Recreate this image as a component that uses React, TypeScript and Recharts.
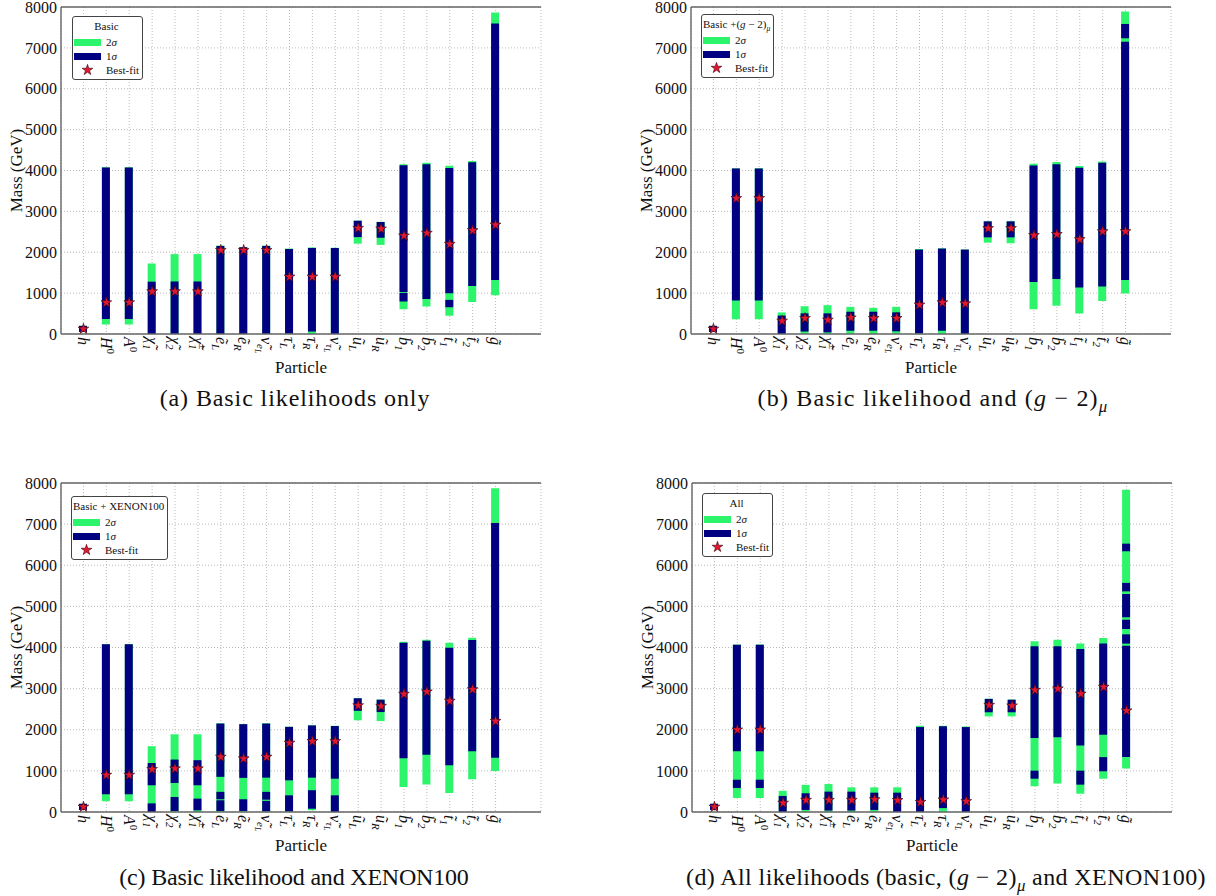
import React from "react";
import {
  ComposedChart,
  Bar,
  Scatter,
  XAxis,
  YAxis,
  CartesianGrid,
  ReferenceLine,
  Legend,
  Symbols,
} from "recharts";

const GREEN = "#2cf56c";
const NAVY = "#000080";
const STAR = "#e3162f";
const FRAME = "#666";
const SERIF = "'Liberation Serif', 'DejaVu Serif', serif";

// particle keys and their (rotated) tick labels
const particles = [
  "h", "H0", "A0", "chi1", "chi2", "chipm", "eL", "eR", "nueL", "tauL",
  "tauR", "nutauL", "uL", "uR", "b1", "b2", "t1", "t2", "gluino",
];

type TickLabel = { base: string; sub?: string; sub2?: string; sup?: string };
const tickLabels: TickLabel[] = [
  { base: "h" },
  { base: "H", sup: "0" },
  { base: "A", sup: "0" },
  { base: "\u03c7\u0303", sub: "1" },
  { base: "\u03c7\u0303", sub: "2" },
  { base: "\u03c7\u0303", sub: "1", sup: "\u00b1" },
  { base: "e\u0303", sub: "L" },
  { base: "e\u0303", sub: "R" },
  { base: "\u03bd\u0303", sub: "e", sub2: "L" },
  { base: "\u03c4\u0303", sub: "L" },
  { base: "\u03c4\u0303", sub: "R" },
  { base: "\u03bd\u0303", sub: "\u03c4", sub2: "L" },
  { base: "u\u0303", sub: "L" },
  { base: "u\u0303", sub: "R" },
  { base: "b\u0303", sub: "1" },
  { base: "b\u0303", sub: "2" },
  { base: "t\u0303", sub: "1" },
  { base: "t\u0303", sub: "2" },
  { base: "g\u0303" },
];

const massTicks = [0, 1000, 2000, 3000, 4000, 5000, 6000, 7000, 8000];

// (a) basic likelihoods only
const basic2Sigma: [number, number][] = [
  [50, 200], [230, 4080], [230, 4080], [0, 1725], [0, 1955], [0, 1955],
  [0, 2165], [0, 2130], [0, 2165], [0, 2090], [0, 2115], [0, 2110],
  [2210, 2775], [2180, 2745], [605, 4155], [670, 4190], [445, 4115],
  [785, 4230], [945, 7865],
];
const basic1Sigma: [number, number][][] = [
  [[50, 200]], [[370, 4075]], [[370, 4075]], [[0, 1280]], [[0, 1285]],
  [[0, 1285]], [[0, 2155]], [[0, 2120]], [[0, 2155]], [[10, 2080]],
  [[60, 2105]], [[0, 2105]], [[2370, 2770]], [[2355, 2740]],
  [[1030, 4130], [795, 1005]], [[855, 4155]], [[1000, 4060], [655, 835]],
  [[1175, 4200]], [[1320, 7595]],
];
const basicBest = [
  125, 770, 770, 1040, 1040, 1040, 2050, 2050, 2050, 1400, 1400, 1400,
  2590, 2575, 2405, 2470, 2200, 2535, 2670,
];

// (b) basic + (g-2)_mu
const gm22Sigma: [number, number][] = [
  [50, 200], [360, 4055], [360, 4055], [0, 528], [0, 680], [0, 705],
  [0, 665], [0, 640], [0, 665], [0, 2080], [0, 2100], [0, 2070],
  [2235, 2760], [2220, 2760], [605, 4165], [690, 4205], [500, 4110],
  [810, 4220], [990, 7890],
];
const gm21Sigma: [number, number][][] = [
  [[50, 200]], [[820, 4050]], [[820, 4050]], [[0, 450]], [[60, 505]],
  [[40, 505]], [[80, 545]], [[80, 545]], [[65, 530]], [[15, 2065]],
  [[80, 2090]], [[0, 2065]], [[2365, 2755]], [[2365, 2755]],
  [[1270, 4125]], [[1345, 4150]], [[1135, 4065]], [[1160, 4190]],
  [[7235, 7585], [1320, 7150]],
];
const gm2Best = [
  125, 3320, 3320, 320, 385, 345, 400, 385, 385, 715, 770, 745,
  2585, 2585, 2415, 2440, 2315, 2510, 2510,
];

// (c) basic + XENON100
const xenon2Sigma: [number, number][] = [
  [50, 200], [260, 4085], [260, 4085], [0, 1600], [0, 1890], [0, 1890],
  [0, 2160], [0, 2140], [0, 2160], [0, 2075], [40, 2110], [0, 2095],
  [2230, 2770], [2210, 2735], [610, 4140], [670, 4190], [460, 4115],
  [795, 4235], [1000, 7870],
];
const xenon1Sigma: [number, number][][] = [
  [[50, 200]], [[430, 4080]], [[430, 4080]], [[650, 1190], [0, 210]],
  [[705, 1275], [25, 365]], [[650, 1260], [40, 325]],
  [[855, 2150], [310, 490], [25, 285]], [[830, 2135], [25, 310]],
  [[835, 2150], [300, 490], [15, 270]], [[770, 2070], [15, 405]],
  [[835, 2105], [80, 530]], [[810, 2090], [0, 405]], [[2460, 2765]],
  [[2430, 2730]], [[1310, 4115]], [[1395, 4165]], [[1135, 3995]],
  [[1475, 4180]], [[1320, 7025]],
];
const xenonBest = [
  125, 900, 900, 1040, 1055, 1055, 1340, 1300, 1340, 1680, 1720, 1720,
  2590, 2575, 2870, 2925, 2700, 2980, 2210,
];

// (d) all likelihoods
const all2Sigma: [number, number][] = [
  [50, 200], [340, 4070], [340, 4070], [0, 515], [0, 660], [0, 680],
  [0, 600], [0, 600], [0, 600], [0, 2100], [0, 2095], [0, 2080],
  [2325, 2755], [2325, 2735], [625, 4150], [690, 4190], [445, 4100],
  [810, 4230], [1055, 7835],
];
const all1Sigma: [number, number][][] = [
  [[50, 200]], [[1475, 4065], [585, 785]], [[1475, 4065], [585, 785]],
  [[0, 390]], [[50, 455]], [[35, 495]], [[35, 495]], [[50, 470]],
  [[0, 470]], [[0, 2065]], [[95, 2085]], [[0, 2065]], [[2425, 2750]],
  [[2425, 2730]], [[1800, 4030], [810, 1005]], [[1815, 4030]],
  [[1615, 3965], [665, 1005]], [[1880, 4095], [990, 1335]],
  [[6340, 6525], [5365, 5570], [4735, 5300], [4450, 4675], [4095, 4320], [1335, 4045]],
];
const allBest = [
  125, 2000, 2000, 220, 290, 290, 290, 305, 285, 240, 300, 260,
  2600, 2585, 2965, 3000, 2875, 3040, 2465,
];

const MAX_PIECES = 6;

function buildRows(green: [number, number][], navy: [number, number][][], best: number[]) {
  return particles.map((name, i) => {
    const row: Record<string, any> = { name, g: green[i], best: best[i] };
    navy[i].forEach((iv, k) => {
      row["n" + k] = iv;
    });
    return row;
  });
}

const Gm2 = () => (
  <>
    (<i>g</i> − 2)<sub style={{ fontSize: "70%" }}><i>μ</i></sub>
  </>
);

function ParticleTick(props: any) {
  const { x, y, payload } = props;
  const lab = tickLabels[particles.indexOf(payload.value)];
  if (!lab) return null;
  return (
    <g transform={`translate(${x},${y}) rotate(90)`}>
      <text x={0} y={0} dy="0.33em" fontFamily={SERIF} fontStyle="italic" fontSize={16} fill="#111">
        <tspan>{lab.base}</tspan>
        {lab.sub && (
          <tspan dy={4} fontSize={11}>
            {lab.sub}
          </tspan>
        )}
        {lab.sub2 && (
          <tspan dy={2} fontSize={8}>
            {lab.sub2}
          </tspan>
        )}
        {lab.sup && (
          <tspan dx={lab.sub ? -6 : 0} dy={lab.sub ? -10 : -6} fontSize={11} fontStyle="normal">
            {lab.sup}
          </tspan>
        )}
      </text>
    </g>
  );
}

function MassLabel(props: any) {
  const vb = props.viewBox || { x: 0, y: 0, width: 61, height: 330 };
  const cx = vb.x + 16;
  const cy = vb.y + vb.height / 2;
  return (
    <text
      x={cx}
      y={cy}
      transform={`rotate(-90, ${cx}, ${cy})`}
      textAnchor="middle"
      dominantBaseline="central"
      fontFamily={SERIF}
      fontSize={17}
      fill="#111"
    >
      Mass (GeV)
    </text>
  );
}

function ParticleLabel(props: any) {
  const vb = props.viewBox || { x: 61, y: 334, width: 480, height: 46 };
  return (
    <text x={vb.x + vb.width / 2} y={vb.y + 39} textAnchor="middle" fontFamily={SERIF} fontSize={17} fill="#111">
      Particle
    </text>
  );
}

function StarMark(props: any) {
  const { cx, cy } = props;
  if (cx == null || cy == null) return null;
  return <Symbols cx={cx} cy={cy} type="star" size={36} fill={STAR} stroke="#3a0a14" strokeWidth={0.6} />;
}

function LegendBox({ title }: { title: React.ReactNode }) {
  const row: React.CSSProperties = { display: "flex", alignItems: "center", height: 14 };
  const patch = (c: string): React.CSSProperties => ({ width: 27, height: 7, background: c, marginRight: 5 });
  return (
    <div
      style={{
        border: "1px solid #444",
        borderRadius: 3,
        background: "#fff",
        padding: "2px 3px 2px 1px",
        fontFamily: SERIF,
        fontSize: 11,
        lineHeight: "14px",
        color: "#111",
        whiteSpace: "nowrap",
      }}
    >
      <div style={{ textAlign: "center", height: 16 }}>{title}</div>
      <div style={row}>
        <span style={patch(GREEN)} />
        2<i>σ</i>
      </div>
      <div style={row}>
        <span style={patch(NAVY)} />
        1<i>σ</i>
      </div>
      <div style={row}>
        <svg width={27} height={12} style={{ marginRight: 5 }}>
          <Symbols cx={13.5} cy={6} type="star" size={36} fill={STAR} stroke="#3a0a14" strokeWidth={0.6} />
        </svg>
        Best-fit
      </div>
    </div>
  );
}

type PanelProps = {
  left: number;
  top: number;
  marginTop: number;
  plotBottom: number;
  title: React.ReactNode;
  green: [number, number][];
  navy: [number, number][][];
  best: number[];
  legendLeft: number;
  legendTop: number;
};

function MassPanel(p: PanelProps) {
  const rows = buildRows(p.green, p.navy, p.best);
  const pieces = Array.from({ length: MAX_PIECES }, (_, k) => "n" + k);
  return (
    <div style={{ position: "absolute", left: p.left, top: p.top }}>
      <ComposedChart
        width={560}
        height={p.plotBottom - p.top + 46}
        data={rows}
        margin={{ top: p.marginTop, right: 19, left: 0, bottom: 0 }}
        barGap={-8}
        style={{ fontFamily: SERIF }}
      >
        <CartesianGrid stroke="#aaa" strokeDasharray="1 2" strokeWidth={0.8} />
        <XAxis
          dataKey="name"
          type="category"
          interval={0}
          height={46}
          padding={{ left: 11, right: 34 }}
          tickLine={false}
          tickSize={0}
          tickMargin={3}
          axisLine={{ stroke: FRAME, strokeWidth: 1.4 }}
          tick={<ParticleTick />}
          label={<ParticleLabel />}
        />
        <YAxis
          domain={[0, 8000]}
          ticks={massTicks}
          interval={0}
          width={61}
          tickLine={false}
          tickSize={0}
          tickMargin={4}
          axisLine={{ stroke: FRAME, strokeWidth: 1.4 }}
          tick={{ fontFamily: SERIF, fontSize: 16, fill: "#111" }}
          label={<MassLabel />}
        />
        <YAxis
          yAxisId="frame"
          orientation="right"
          domain={[0, 8000]}
          width={0}
          tick={false}
          tickLine={false}
          axisLine={{ stroke: FRAME, strokeWidth: 1.4 }}
        />
        <ReferenceLine y={8000} stroke={FRAME} strokeWidth={1.4} />
        <Bar dataKey="g" fill={GREEN} barSize={8} isAnimationActive={false} />
        {pieces.map((k) => (
          <Bar key={k} dataKey={k} fill={NAVY} barSize={8} isAnimationActive={false} />
        ))}
        <Scatter dataKey="best" isAnimationActive={false} shape={<StarMark />} />
        <Legend
          layout="horizontal"
          verticalAlign="middle"
          align="center"
          wrapperStyle={{ left: p.legendLeft, top: p.legendTop, width: "auto", height: "auto" }}
          content={() => <LegendBox title={p.title} />}
        />
      </ComposedChart>
    </div>
  );
}

function Caption({ cx, top, spacing, children }: { cx: number; top: number; spacing: number; children: React.ReactNode }) {
  return (
    <div
      style={{
        position: "absolute",
        left: cx - 300,
        top,
        width: 600,
        textAlign: "center",
        fontFamily: SERIF,
        fontSize: 24,
        lineHeight: "26px",
        letterSpacing: spacing,
        color: "#111",
      }}
    >
      {children}
    </div>
  );
}

export default function App() {
  return (
    <div style={{ position: "absolute", left: 0, top: 0, width: 1216, height: 896, background: "#fff" }}>
      <MassPanel left={0} top={0} marginTop={7} plotBottom={334} title="Basic" green={basic2Sigma} navy={basic1Sigma} best={basicBest} legendLeft={72} legendTop={16} />
      <MassPanel
        left={630}
        top={0}
        marginTop={7}
        plotBottom={334}
        title={<>Basic +<Gm2 /></>}
        green={gm22Sigma}
        navy={gm21Sigma}
        best={gm2Best}
        legendLeft={71}
        legendTop={14}
      />
      <MassPanel left={0} top={468} marginTop={15} plotBottom={812} title="Basic + XENON100" green={xenon2Sigma} navy={xenon1Sigma} best={xenonBest} legendLeft={71} legendTop={28} />
      <MassPanel left={631} top={468} marginTop={15} plotBottom={812} title="All" green={all2Sigma} navy={all1Sigma} best={allBest} legendLeft={71} legendTop={25} />

      <Caption cx={295} top={385} spacing={0.9}>(a) Basic likelihoods only</Caption>
      <Caption cx={933} top={385} spacing={1.2}>
        (b) Basic likelihood and <Gm2 />
      </Caption>
      <Caption cx={294} top={864} spacing={-0.2}>(c) Basic likelihood and XENON100</Caption>
      <Caption cx={946} top={864} spacing={0.4}>
        (d) All likelihoods (basic, <Gm2 /> and XENON100)
      </Caption>
    </div>
  );
}
